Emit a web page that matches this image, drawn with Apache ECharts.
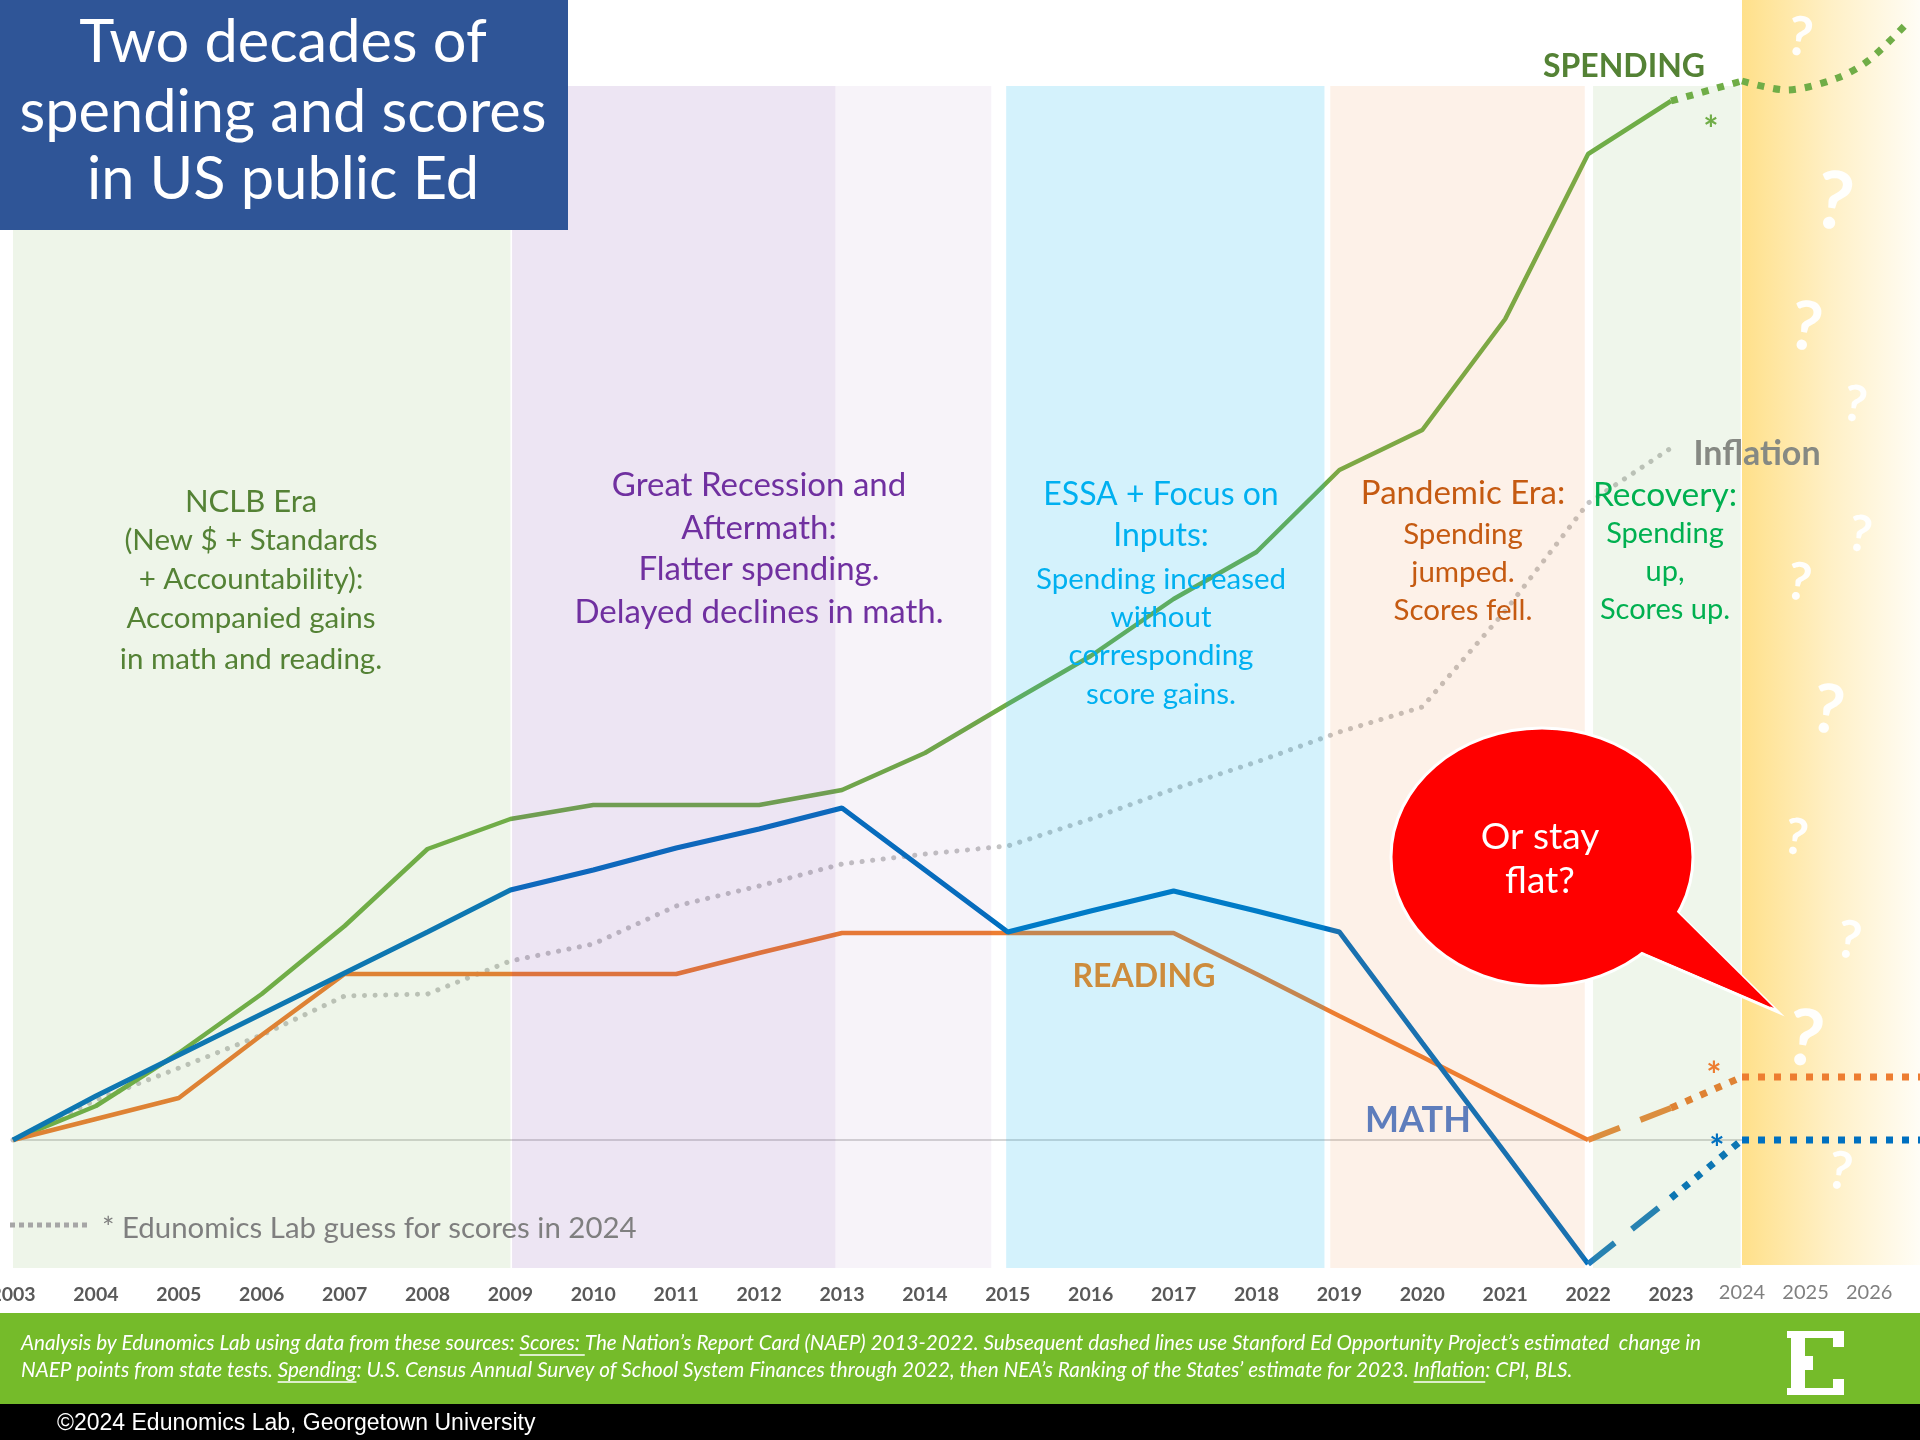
<!DOCTYPE html>
<html>
<head>
<meta charset="utf-8">
<title>Two decades of spending and scores in US public Ed</title>
<script src="https://cdn.jsdelivr.net/npm/echarts@6/dist/echarts.min.js"></script>
<style>
  html, body { margin: 0; padding: 0; background: #fff; }
  #chart { width: 1920px; height: 1440px; }
</style>
</head>
<body>
<div id="chart"></div>
<script>
// change since 2003, in index points (no y axis is shown)
const years = [2003, 2004, 2005, 2006, 2007, 2008, 2009, 2010, 2011, 2012, 2013,
  2014, 2015, 2016, 2017, 2018, 2019, 2020, 2021, 2022, 2023];
const spending = [0, 3.4, 8.7, 14.6, 21.4, 29.1, 32.1, 33.5, 33.5, 33.5, 35.0,
  38.7, 43.6, 48.4, 54.1, 58.8, 67.0, 71.0, 82.1, 98.6, 103.9];
const inflation = [0, 4.0, 7.2, 10.5, 14.4, 14.6, 17.9, 19.6, 23.4, 25.4, 27.6,
  28.6, 29.4, 32.1, 35.1, 37.8, 40.8, 43.3, 52.9, 63.7, 69.2];
// NAEP scores reported through 2022
const math = [0, 4.4, 8.5, 12.6, 16.7, 20.8, 25.0, 27.0, 29.2, 31.1, 33.2,
  27.0, 20.8, 22.9, 24.9, 22.9, 20.8, 9.7, -1.3, -12.4];
const reading = [0, 2.1, 4.2, 10.5, 16.6, 16.6, 16.6, 16.6, 16.6, 18.7, 20.7,
  20.7, 20.7, 20.7, 20.7, 16.6, 12.4, 8.3, 4.1, 0];

// estimates after 2022
const estYears = [2022, 2023, 2024];
const mathEst = [-12.4, -5.8, 0];
const readingEst = [0, 3.2, 6.3];
const spendingEst = [98.6, 103.9, 105.9];

// guesses for the coming years
const flatYears = [2024, 2026.8];
const mathFlat = [0, 0];
const readingFlat = [6.3, 6.3];
const spendingFutureYears = [2024, 2024.7, 2025.5, 2026, 2026.6];
const spendingFuture = [105.9, 105.0, 106.2, 108.0, 111.7];

// eras: [start, end]
const eras = [[2003, 2009.0], [2009.02, 2012.92], [2012.92, 2014.8],
  [2014.98, 2018.82], [2018.89, 2021.96], [2022.06, 2023.98]];
const eraColors = ['rgba(112,173,71,0.12)', 'rgba(112,48,160,0.125)', 'rgba(112,48,160,0.06)',
  'rgba(0,176,240,0.17)', 'rgba(237,125,49,0.11)', 'rgba(112,173,71,0.11)'];

const pairs = (xs, ys) => xs.map((x, i) => [x, ys[i]]);

const FONT = 'Lato';
const BAND_TOP = 105.4;
const BAND_BOTTOM = -12.8;

// split the era bands between the history grid (to 2023) and the 2023-2024 grid
const bandsIn = (lo, hi) => eras
  .map((e, i) => [Math.max(e[0], lo), Math.min(e[1], hi), eraColors[i]])
  .filter((e) => e[1] > e[0])
  .map((e) => [
    { xAxis: e[0], yAxis: BAND_TOP, itemStyle: { color: e[2] } },
    { xAxis: e[1], yAxis: BAND_BOTTOM },
  ]);

const baseline = {
  z: 1,
  silent: true,
  symbol: 'none',
  label: { show: false },
  lineStyle: { color: '#c8c8c8', width: 1.5, type: 'solid' },
  data: [{ yAxis: 0 }],
};

const solid = (color, width) => ({ color: color, width: width, type: 'solid' });
const longDash = (color) => ({ color: color, width: 6, type: [34, 22] });
const squareDot = (color) => ({ color: color, width: 7, type: [7, 9] });

const line = (grid, data, lineStyle, extra) => Object.assign({
  type: 'line',
  xAxisIndex: grid,
  yAxisIndex: grid,
  data: data,
  symbol: 'none',
  lineStyle: lineStyle,
  silent: true,
  z: 2,
}, extra || {});

const txt = (x, y, text, size, color, style, z) => ({
  type: 'text',
  x: x,
  y: y,
  z: z || 50,
  silent: true,
  style: Object.assign({
    text: text,
    fill: color,
    fontSize: size,
    fontFamily: FONT,
    align: 'center',
    verticalAlign: 'middle',
  }, style || {}),
});

const block = (x, color, rows) => rows.map((r) => txt(x, r[1], r[0], r[2], color));

const questionMarks = [
  [1800, 38, 54], [1834, 203, 80], [1806, 328, 68], [1855, 405, 50],
  [1860, 535, 50], [1799, 583, 52], [1828, 711, 68], [1796, 838, 50],
  [1849, 941, 52], [1805, 1040, 78], [1840, 1172, 52],
];

// footer, with underlines measured from the text itself
const FOOT_SIZE = 20.7;
const footer1 = 'Analysis by Edunomics Lab using data from these sources: Scores: The Nation\u2019s Report Card (NAEP) 2013-2022. Subsequent dashed lines use Stanford Ed Opportunity Project\u2019s estimated  change in';
const footer2 = 'NAEP points from state tests. Spending: U.S. Census Annual Survey of School System Finances through 2022, then NEA\u2019s Ranking of the States\u2019 estimate for 2023. Inflation: CPI, BLS.';
const ctx = document.createElement('canvas').getContext('2d');
ctx.font = 'italic ' + FOOT_SIZE + 'px ' + FONT;
const underline = (str, word, x0, y) => {
  const i = str.indexOf(word);
  const a = x0 + ctx.measureText(str.slice(0, i)).width;
  const b = a + ctx.measureText(word).width;
  return {
    type: 'line', z: 52, silent: true,
    shape: { x1: a, y1: y, x2: b, y2: y },
    style: { stroke: '#fff', lineWidth: 1.5 },
  };
};
const footStyle = { align: 'left', fontStyle: 'italic' };

const graphics = [
  // title
  { type: 'rect', z: 60, silent: true, shape: { x: 0, y: 0, width: 568, height: 230 }, style: { fill: '#2F5597' } },
  txt(283, 43, 'Two decades of', 59.5, '#fff', null, 61),
  txt(283, 113, 'spending and scores', 59.5, '#fff', null, 61),
  txt(283, 180, 'in US public Ed', 59.5, '#fff', null, 61),

  ...block(251, '#548235', [
    ['NCLB Era', 502, 31], ['(New $ + Standards', 540, 29.5], ['+ Accountability):', 579, 29.5],
    ['Accompanied gains', 618, 29.5], ['in math and reading.', 659, 29.5]]),
  ...block(759, '#7030A0', [
    ['Great Recession and', 485, 33], ['Aftermath:', 528, 33],
    ['Flatter spending.', 569, 33], ['Delayed declines in math.', 612, 33]]),
  ...block(1161, '#00B0F0', [
    ['ESSA + Focus on', 495, 32], ['Inputs:', 536, 32], ['Spending increased', 579, 29.5],
    ['without', 617, 29.5], ['corresponding', 655, 29.5], ['score gains.', 694, 29.5]]),
  ...block(1463, '#C55A11', [
    ['Pandemic Era:', 493, 33], ['Spending', 534, 29.5], ['jumped.', 572, 29.5], ['Scores fell.', 610, 29.5]]),
  ...block(1665, '#00B050', [
    ['Recovery:', 495, 33.5], ['Spending', 534, 29], ['up,', 572, 29], ['Scores up.', 610, 29]]),

  // series names
  txt(1624, 67, 'SPENDING', 32, '#548235', { fontWeight: 'bold' }),
  txt(1757, 454, 'Inflation', 34, '#868983', { fontWeight: 'bold' }),
  txt(1144, 977, 'READING', 32, '#CD8C3C', { fontWeight: 'bold' }),
  txt(1418, 1120, 'MATH', 36, '#5E7DBC', { fontWeight: 'bold' }),

  txt(1711, 130, '*', 36, '#70AD47', { fontWeight: 'bold' }),
  txt(1714, 1076, '*', 36, '#ED7D31', { fontWeight: 'bold' }),
  txt(1717, 1149, '*', 36, '#0070C0', { fontWeight: 'bold' }),

  // legend for the guesses
  { type: 'line', z: 50, silent: true, shape: { x1: 10, y1: 1225, x2: 89, y2: 1225 },
    style: { stroke: '#A6A6A6', lineWidth: 5, lineDash: [5, 4] } },
  txt(102, 1229, '* Edunomics Lab guess for scores in 2024', 29.4, '#7F7F7F', { align: 'left' }),

  // speech bubble
  { type: 'polygon', z: 55, silent: true, shape: { points: [[1602, 936], [1674, 909], [1778, 1012]] },
    style: { fill: '#FF0000', stroke: '#fff', lineWidth: 3 } },
  { type: 'ellipse', z: 56, silent: true, shape: { cx: 1542, cy: 857, rx: 151, ry: 129 },
    style: { fill: '#FF0000', stroke: '#fff', lineWidth: 3 } },
  { type: 'polygon', z: 57, silent: true, shape: { points: [[1600, 934], [1672, 907], [1774, 1008]] },
    style: { fill: '#FF0000' } },
  txt(1540, 837, 'Or stay', 37, '#fff', null, 58),
  txt(1540, 881, 'flat?', 37, '#fff', null, 58),

  ...questionMarks.map((q) => Object.assign(
    txt(q[0], q[1], '?', q[2], '#fff', { fontWeight: 'bold', opacity: 0.95 }, 40), { rotation: -0.15 })),

  // footer
  { type: 'rect', z: 50, silent: true, shape: { x: 0, y: 1313, width: 1920, height: 91 }, style: { fill: '#75BB2A' } },
  { type: 'rect', z: 50, silent: true, shape: { x: 0, y: 1404, width: 1920, height: 36 }, style: { fill: '#000' } },
  txt(21, 1343, footer1, FOOT_SIZE, '#fff', footStyle, 51),
  txt(21, 1370, footer2, FOOT_SIZE, '#fff', footStyle, 51),
  underline(footer1, 'Scores: ', 21, 1355),
  underline(footer2, 'Spending', 21, 1382),
  underline(footer2, 'Inflation', 21, 1382),
  txt(57, 1424, '\u00A92024 Edunomics Lab, Georgetown University', 23, '#fff',
    { align: 'left', fontFamily: 'Liberation Sans' }, 51),

  // logo
  ...[[1787, 1331, 57, 7], [1787, 1388, 57, 7], [1791, 1331, 14, 64], [1833, 1331, 11, 16],
    [1833, 1379, 11, 16], [1805, 1356, 8, 14]].map((r) => ({
    type: 'rect', z: 52, silent: true,
    shape: { x: r[0], y: r[1], width: r[2], height: r[3] }, style: { fill: '#fff' },
  })),
];

const yAxisBase = { type: 'value', min: -13, max: 114, show: false };
const xAxisBase = {
  type: 'value',
  interval: 1,
  axisLine: { show: false },
  axisTick: { show: false },
  splitLine: { show: false },
};

const option = {
  animation: false,
  backgroundColor: '#fff',
  grid: [
    { left: 13, top: 0, width: 1658, height: 1270, outerBoundsMode: 'none' },
    { left: 1671, top: 0, width: 71, height: 1270, outerBoundsMode: 'none' },
    { left: 1742, top: 0, width: 178, height: 1270, outerBoundsMode: 'none' },
  ],
  xAxis: [
    Object.assign({}, xAxisBase, { gridIndex: 0, min: 2003, max: 2023,
      axisLabel: { margin: 15, fontSize: 19.5, fontWeight: 'bold', fontFamily: FONT, color: '#595959',
        formatter: (v) => String(v) } }),
    Object.assign({}, xAxisBase, { gridIndex: 1, min: 2023, max: 2024, axisLabel: { show: false } }),
    Object.assign({}, xAxisBase, { gridIndex: 2, min: 2024, max: 2026.8,
      axisLabel: { margin: 13, fontSize: 20, fontFamily: FONT, color: '#808080',
        formatter: (v) => (Number.isInteger(v) ? String(v) : '') } }),
  ],
  yAxis: [
    Object.assign({}, yAxisBase, { gridIndex: 0 }),
    Object.assign({}, yAxisBase, { gridIndex: 1 }),
    Object.assign({}, yAxisBase, { gridIndex: 2 }),
  ],
  graphic: { elements: graphics },
  series: [
    // era bands drawn over the lines, as in the original slide
    line(0, [], solid('#fff', 0), {
      z: 3,
      markArea: { z: 3, silent: true, label: { show: false }, data: bandsIn(2003, 2023) },
      markLine: baseline,
    }),
    line(1, [], solid('#fff', 0), {
      z: 3,
      markArea: { z: 3, silent: true, label: { show: false }, data: bandsIn(2023, 2024) },
      markLine: baseline,
    }),
    line(2, [], solid('#fff', 0), {
      z: 1,
      markArea: {
        z: 1, silent: true, label: { show: false },
        data: [[{
          xAxis: 2024, yAxis: 114,
          itemStyle: { color: { type: 'linear', x: 0, y: 0, x2: 1, y2: 0, colorStops: [
            { offset: 0, color: '#FFE08A' }, { offset: 0.5, color: '#FFF0C6' }, { offset: 1, color: '#FFFDF6' }] } },
        }, { xAxis: 2026.8, yAxis: -12.5 }]],
      },
    }),

    line(0, pairs(years, inflation), { color: '#C4C4C4', width: 5, type: [0.1, 10.5], cap: 'round' }),
    line(0, pairs(years, spending), solid('#70AD47', 4.5)),
    line(0, pairs(years.slice(0, reading.length), reading), solid('#ED7D31', 4.5)),
    line(0, pairs(years.slice(0, math.length), math), solid('#0070C0', 5)),
    line(0, pairs(estYears.slice(0, 2), readingEst.slice(0, 2)), longDash('#E98B3E')),
    line(0, pairs(estYears.slice(0, 2), mathEst.slice(0, 2)), longDash('#1F7DBE')),

    line(1, pairs(estYears.slice(1), spendingEst.slice(1)), squareDot('#70AD47')),
    line(1, pairs(estYears.slice(1), readingEst.slice(1)), squareDot('#ED7D31')),
    line(1, pairs(estYears.slice(1), mathEst.slice(1)), squareDot('#0070C0')),

    line(2, pairs(spendingFutureYears, spendingFuture), squareDot('#70AD47'), { smooth: 0.3 }),
    line(2, pairs(flatYears, readingFlat), squareDot('#ED7D31')),
    line(2, pairs(flatYears, mathFlat), squareDot('#0070C0')),
  ],
};

const chart = echarts.init(document.getElementById('chart'));
chart.setOption(option);
</script>
</body>
</html>
